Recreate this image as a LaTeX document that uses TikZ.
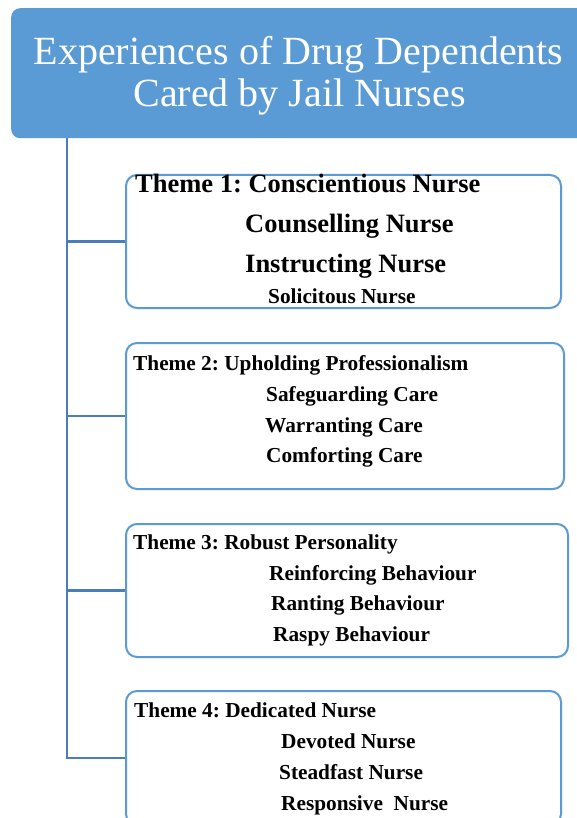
\documentclass[tikz,border=0pt]{standalone}
\usepackage{fontspec}
\setmainfont{Liberation Serif}
\frenchspacing
\definecolor{hdrblue}{HTML}{5B9BD5}
\definecolor{boxblue}{HTML}{5B9BD5}
\definecolor{linkblue}{HTML}{4A7EBB}
\tikzset{
  hdrbox/.style={draw=none, fill=hdrblue, rounded corners=9pt, minimum width=600pt, minimum height=130pt, anchor=north west, inner sep=0pt},
  themebox/.style={draw=boxblue, line width=2pt, fill=white, rounded corners=11pt, anchor=north west, inner sep=0pt},
  conn/.style={draw=linkblue, line width=2.2pt},
  hdrtxt/.style={anchor=base, inner sep=0pt, text=white, font=\fontsize{40}{44}\selectfont},
  bigtxt/.style={anchor=base west, inner sep=0pt, font=\bfseries\fontsize{26.5}{30}\selectfont},
  smalltxt/.style={anchor=base west, inner sep=0pt, font=\bfseries\fontsize{21.3}{25}\selectfont}
}
\begin{document}
\begin{tikzpicture}[x=1pt,y=-1pt]
\useasboundingbox (0,0) rectangle (577,818);
\clip (0,0) rectangle (577,818);
\fill[white] (0,0) rectangle (577,818);
% header
\node[hdrbox] (hdr) at (11,8) {};
\node[hdrtxt] (h1) at (298.5,65) {Experiences of Drug Dependents};
\node[hdrtxt] (h2) at (299.5,107) {Cared by Jail Nurses};
% theme boxes
\node[themebox, minimum width=435pt, minimum height=133pt] (b1) at (125,174) {};
\node[themebox, minimum width=438pt, minimum height=146pt] (b2) at (125,342) {};
\node[themebox, minimum width=442pt, minimum height=133pt] (b3) at (125,523) {};
\node[themebox, minimum width=435pt, minimum height=134pt] (b4) at (125,690) {};
% connectors
\coordinate (t0) at (67,138);
\draw[conn] (t0) -- (t0 |- b4.west) -- (b4.west);
\draw[conn] (t0 |- b1.west) -- (b1.west);
\draw[conn] (t0 |- b2.west) -- (b2.west);
\draw[conn] (t0 |- b3.west) -- (b3.west);
% theme 1
\node[bigtxt] (t1a) at (135,193) {Theme 1: Conscientious Nurse};
\node[bigtxt] (t1b) at (245,233) {Counselling Nurse};
\node[bigtxt] (t1c) at (245,272) {Instructing Nurse};
\node[smalltxt] (t1d) at (268,303) {Solicitous Nurse};
% theme 2
\node[smalltxt] (t2a) at (133,370) {Theme 2: Upholding Professionalism};
\node[smalltxt] (t2b) at (266,401) {Safeguarding Care};
\node[smalltxt] (t2c) at (265,432) {Warranting Care};
\node[smalltxt] (t2d) at (266,462) {Comforting Care};
% theme 3
\node[smalltxt] (t3a) at (133,549) {Theme 3: Robust Personality};
\node[smalltxt] (t3b) at (269,580) {Reinforcing Behaviour};
\node[smalltxt] (t3c) at (271,610) {Ranting Behaviour};
\node[smalltxt] (t3d) at (273,641) {Raspy Behaviour};
% theme 4
\node[smalltxt] (t4a) at (134,717) {Theme 4: Dedicated Nurse};
\node[smalltxt] (t4b) at (281,748) {Devoted Nurse};
\node[smalltxt] (t4c) at (279,779) {Steadfast Nurse};
\node[smalltxt] (t4d) at (281,810) {Responsive~~Nurse};
\end{tikzpicture}
\end{document}
